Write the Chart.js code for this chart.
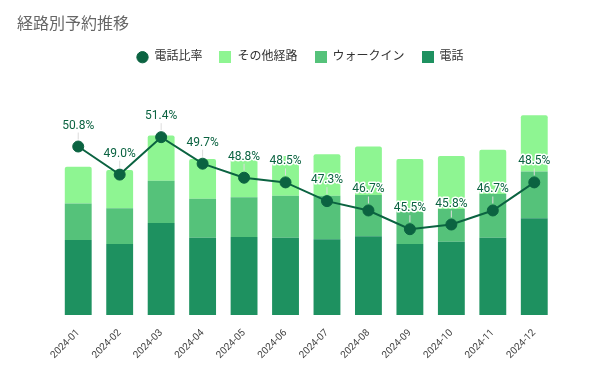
<!DOCTYPE html>
<html lang="ja">
<head>
<meta charset="utf-8">
<title>経路別予約推移</title>
<script src="https://cdn.jsdelivr.net/npm/chart.js@4.4.1/dist/chart.umd.min.js"></script>
<style>
  html, body { margin: 0; padding: 0; background: #fff; }
  #wrap { width: 600px; height: 371px; position: relative; }
</style>
</head>
<body>
<div id="wrap"><canvas id="chart"></canvas></div>
<script>
// 月
const months = ['2024-01', '2024-02', '2024-03', '2024-04', '2024-05', '2024-06',
                '2024-07', '2024-08', '2024-09', '2024-10', '2024-11', '2024-12'];
// 経路別の予約件数
const phone   = [96, 91, 118, 99, 100, 99, 97, 101, 91, 94, 99, 124];
const walkIn  = [47, 46, 54, 50, 51, 54, 56, 53, 41, 42, 56, 60];
const others  = [47, 49, 58, 51, 49, 51, 53, 62, 68, 68, 57, 72];
// 電話比率 (%)
const phoneRatio = [50.8, 49.0, 51.4, 49.7, 48.8, 48.5, 47.3, 46.7, 45.5, 45.8, 46.7, 48.5];

const COLOR_PHONE = '#1e9160';
const COLOR_WALKIN = '#55c27a';
const COLOR_OTHERS = '#8ef592';
const COLOR_RATIO = '#0b6341';

Chart.defaults.font.family = "Roboto, 'Noto Sans CJK JP', sans-serif";

// 凡例用の四角
function swatch(color) {
    const c = document.createElement('canvas');
    c.width = 12;
    c.height = 12;
    const g = c.getContext('2d');
    g.fillStyle = color;
    g.fillRect(0, 0, 12, 12);
    return c;
}

// 比率ラベル（白フチ付き）
const ratioLabels = {
    id: 'ratioLabels',
    afterDatasetsDraw(chart) {
        const meta = chart.getDatasetMeta(0);
        const ctx = chart.ctx;
        ctx.save();
        ctx.font = "12px Roboto, 'Noto Sans CJK JP', sans-serif";
        ctx.textAlign = 'center';
        ctx.textBaseline = 'middle';
        meta.data.forEach((pt, i) => {
            const text = phoneRatio[i].toFixed(1) + '%';
            const y = pt.y - 21;
            ctx.strokeStyle = '#dcdcdc';
            ctx.lineWidth = 1;
            ctx.beginPath();
            ctx.moveTo(pt.x, y + 7);
            ctx.lineTo(pt.x, pt.y - 7);
            ctx.stroke();
            ctx.lineJoin = 'round';
            ctx.strokeStyle = '#fff';
            ctx.lineWidth = 3;
            ctx.strokeText(text, pt.x, y);
            ctx.fillStyle = COLOR_RATIO;
            ctx.fillText(text, pt.x, y);
        });
        ctx.restore();
    }
};

const legendRank = i => (i === 0 ? 0 : 4 - i);

new Chart(document.getElementById('chart'), {
    data: {
        labels: months,
        datasets: [
            {
                type: 'line',
                label: '電話比率',
                data: phoneRatio,
                yAxisID: 'y1',
                borderColor: COLOR_RATIO,
                backgroundColor: COLOR_RATIO,
                borderWidth: 2,
                pointRadius: 5.5,
                pointBorderWidth: 1,
                pointStyle: 'circle',
                tension: 0
            },
            {
                type: 'bar',
                label: '電話',
                data: phone,
                backgroundColor: COLOR_PHONE,
                pointStyle: swatch(COLOR_PHONE),
                stack: 'total'
            },
            {
                type: 'bar',
                label: 'ウォークイン',
                data: walkIn,
                backgroundColor: COLOR_WALKIN,
                pointStyle: swatch(COLOR_WALKIN),
                stack: 'total'
            },
            {
                type: 'bar',
                label: 'その他経路',
                data: others,
                backgroundColor: COLOR_OTHERS,
                pointStyle: swatch(COLOR_OTHERS),
                borderRadius: { topLeft: 2, topRight: 2 },
                borderSkipped: false,
                stack: 'total'
            }
        ]
    },
    options: {
        responsive: true,
        maintainAspectRatio: false,
        animation: false,
        datasets: {
            bar: { categoryPercentage: 0.8, barPercentage: 0.81 }
        },
        layout: { padding: { top: 14, left: 17, right: 17, bottom: 0 } },
        plugins: {
            title: {
                display: true,
                text: '経路別予約推移',
                align: 'start',
                color: '#666',
                font: { size: 16, weight: 'normal' },
                padding: { top: 1, bottom: 0 }
            },
            legend: {
                position: 'top',
                labels: {
                    usePointStyle: true,
                    boxWidth: 12,
                    boxHeight: 8,
                    padding: 17,
                    color: '#333',
                    font: { size: 12 },
                    sort: (a, b) => legendRank(a.datasetIndex) - legendRank(b.datasetIndex)
                }
            },
            tooltip: { enabled: false }
        },
        scales: {
            x: {
                stacked: true,
                grid: { display: false },
                border: { display: false },
                ticks: {
                    autoSkip: false,
                    minRotation: 45,
                    maxRotation: 45,
                    padding: 4,
                    color: '#444',
                    font: { size: 10 }
                },
                afterFit: s => { s.height = 56; }
            },
            y: {
                stacked: true,
                min: 0,
                max: 310,
                grid: { display: false },
                border: { display: false },
                ticks: { display: false },
                afterFit: s => { s.width = 40.5; }
            },
            y1: {
                position: 'right',
                min: 40,
                max: 55.5,
                grid: { display: false },
                border: { display: false },
                ticks: { display: false },
                afterFit: s => { s.width = 28; }
            }
        }
    },
    plugins: [ratioLabels]
});
</script>
</body>
</html>
